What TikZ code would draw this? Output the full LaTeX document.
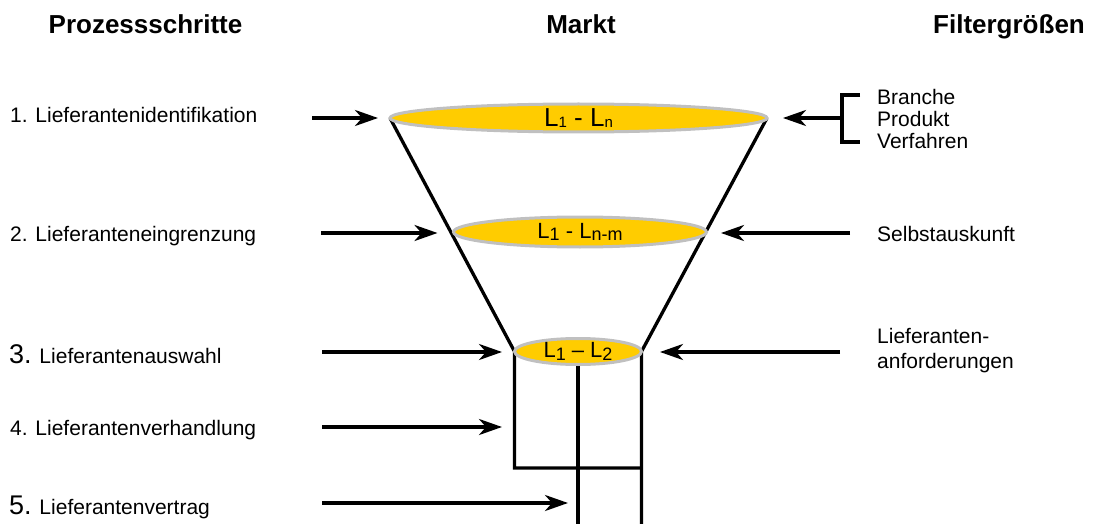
\documentclass[tikz,border=0pt]{standalone}
\usepackage{fontspec}
\setmainfont{Liberation Sans}
\usetikzlibrary{arrows.meta,shapes.geometric,backgrounds}
\definecolor{funnelyellow}{HTML}{FFCC00}
\definecolor{rimgray}{HTML}{C0C0C0}
\newcommand\fs[1]{\fontsize{#1}{#1}\selectfont}
\newcommand\sbs[3]{\raisebox{#2}{\fs{#1}#3}}
\begin{document}
\begin{tikzpicture}[x=1pt,y=-1pt,
  lbl/.style={inner sep=0pt, anchor=base west, font=\fs{21}},
  ttl/.style={inner sep=0pt, anchor=base, font=\fs{26}\bfseries},
  disk/.style={ellipse, draw=rimgray, line width=3pt, fill=funnelyellow, inner sep=0pt, outer sep=0pt},
  arr/.style={line width=3.3pt, -{Stealth[length=23pt,width=16pt,inset=7pt]}},
  wall/.style={line width=3.3pt}]
\path[use as bounding box] (0,0) rectangle (1098,524);

% titles
\node[ttl] (t1) at (145.5,34) {Prozessschritte};
\node[ttl] (t2) at (581,34) {Markt};
\node[ttl] (t3) at (1009,34) {Filtergrößen};

% funnel discs
\node[disk, minimum width=377pt, minimum height=28pt, font=\fs{26}] (e1) at (578.5,118)
  {L\sbs{15}{-0.5pt}{1} - L\sbs{15}{-0.5pt}{n}};
\node[disk, minimum width=253pt, minimum height=30pt, font=\fs{22}] (e2) at (580,232)
  {L\sbs{18}{-1.5pt}{1} - L\sbs{18}{-1.5pt}{n-m}};
\node[disk, minimum width=127pt, minimum height=26pt, font=\fs{22}] (e3) at (578,351.5)
  {L\sbs{18}{-3pt}{1} – L\sbs{18}{-3pt}{2}};

% funnel walls and pipes
\coordinate (yb) at (0,468);
\coordinate (ybot) at (0,524);
\begin{scope}[on background layer]
\draw[wall] (e1.west) -- (e3.west) -- (e3.west |- yb) -- (e3.east |- yb);
\draw[wall] (e1.east) -- (e3.east) -- (e3.east |- ybot);
\draw[wall] (e3.south) -- (e3.south |- ybot);
\end{scope}

% left labels
\node[lbl] (s1) at (10,123) {1. Lieferantenidentifikation};
\node[lbl] (s2) at (10,241) {2. Lieferanteneingrenzung};
\node[lbl] (s3) at (9,363) {{\fs{27}3.} Lieferantenauswahl};
\node[lbl] (s4) at (10,435) {4. Lieferantenverhandlung};
\node[lbl] (s5) at (9,514) {{\fs{27}5.} Lieferantenvertrag};

% right labels
\node[inner sep=0pt, anchor=west, align=left, font=\fontsize{21}{22}\selectfont] (f1) at (877,119.4)
  {Branche\\Produkt\\Verfahren};
\node[lbl] (f2) at (877,241) {Selbstauskunft};
\node[inner sep=0pt, anchor=west, align=left, font=\fontsize{21}{25}\selectfont] (f3) at (877,350.2)
  {Lieferanten-\\anforderungen};

% bracket
\coordinate (bt) at (860,95);
\coordinate (bb) at (860,142);
\coordinate (bm) at (842,118);
\draw[wall] (bt) -- (bt -| bm) -- (bb -| bm) -- (bb);

% arrow tails and tips
\coordinate (a1) at (312,118);
\coordinate (a2) at (321,233);
\coordinate (a3) at (322,352);
\coordinate (a4) at (322,427);
\coordinate (p4) at (502,427);
\coordinate (a5) at (322,503);
\coordinate (p5) at (568,503);
\coordinate (r2) at (850,233);
\coordinate (r3) at (840,352);

\draw[arr] (a1) -- ([xshift=-12pt]e1.west);
\draw[arr] (a2) -- ([xshift=-16pt,yshift=-1pt]e2.west);
\draw[arr] (a3) -- ([xshift=-12.5pt,yshift=-0.5pt]e3.west);
\draw[arr] (a4) -- (p4);
\draw[arr] (a5) -- (p5);
\draw[arr] (bm) -- ([xshift=16pt]e1.east);
\draw[arr] (r2) -- ([xshift=14.5pt,yshift=-1pt]e2.east);
\draw[arr] (r3) -- ([xshift=18.5pt,yshift=-0.5pt]e3.east);
\end{tikzpicture}
\end{document}
